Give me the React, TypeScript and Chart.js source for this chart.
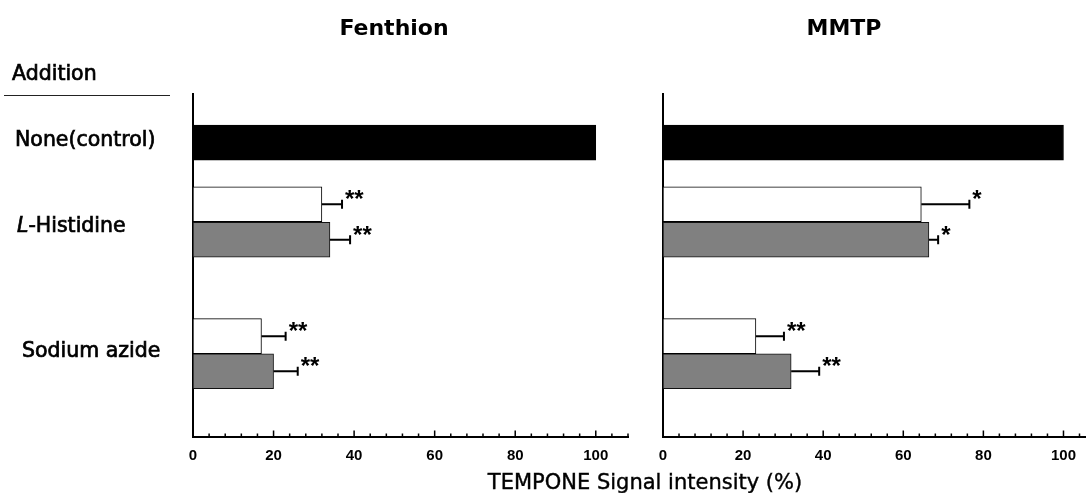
import React, { useEffect, useRef } from "react";
import { Chart, registerables } from "chart.js";

Chart.register(...registerables);

// ---------- text ----------
const panelTitles = ["Fenthion", "MMTP"];
const additionHeader = "Addition";
const rowLabels = ["None(control)", "L-Histidine", "Sodium azide"];
const xTickLabels = [0, 20, 40, 60, 80, 100];
const xAxisTitle = "TEMPONE Signal intensity (%)";

// ---------- data (TEMPONE signal intensity, %) ----------
// Fenthion panel
const fenthionControl = [100];
const fenthionWhite = [32, 17]; // L-Histidine, Sodium azide
const fenthionWhiteErr = [5, 6];
const fenthionWhiteSig = ["**", "**"];
const fenthionGrey = [34, 20];
const fenthionGreyErr = [5, 6];
const fenthionGreySig = ["**", "**"];

// MMTP panel
const mmtpControl = [100];
const mmtpWhite = [64.5, 23.2];
const mmtpWhiteErr = [12, 7];
const mmtpWhiteSig = ["*", "**"];
const mmtpGrey = [66.4, 32];
const mmtpGreyErr = [2.3, 7];
const mmtpGreySig = ["*", "**"];

// ---------- row slots along the (hidden) vertical axis, in bar-height units ----------
const controlSlot = [1.37];
const whiteSlots = [3.11, 6.83];
const greySlots = [4.11, 7.82];
const rowAxisMax = 9.66;

const FONT_SANS = '"DejaVu Sans", "Liberation Sans", sans-serif';
const FONT_TICK = '"Liberation Sans", Arial, sans-serif';

const errorBarPlugin = {
  id: "errorBars",
  afterDatasetsDraw(chart: any) {
    const ctx = chart.ctx;
    const xs = chart.scales.x;
    chart.data.datasets.forEach((ds: any, di: number) => {
      if (!ds.errors) return;
      const meta = chart.getDatasetMeta(di);
      meta.data.forEach((bar: any, i: number) => {
        const v = ds.data[i].x;
        const e = ds.errors[i];
        const x0 = bar.x;
        const y = bar.y;
        const x1 = xs.getPixelForValue(v + e);
        ctx.save();
        ctx.strokeStyle = "#000";
        ctx.lineWidth = 2;
        ctx.beginPath();
        ctx.moveTo(x0, y);
        ctx.lineTo(x1, y);
        ctx.moveTo(x1, y - 4.5);
        ctx.lineTo(x1, y + 4.5);
        ctx.stroke();
        if (ds.sig && ds.sig[i]) {
          ctx.fillStyle = "#000";
          ctx.font = `bold 24px ${FONT_TICK}`;
          ctx.textAlign = "left";
          ctx.textBaseline = "alphabetic";
          ctx.fillText(ds.sig[i], x1 + 3, y + 3);
        }
        ctx.restore();
      });
    });
  },
};

const inwardTicksPlugin = {
  id: "inwardTicks",
  afterDraw(chart: any) {
    const ctx = chart.ctx;
    const xs = chart.scales.x;
    ctx.save();
    ctx.strokeStyle = "#000";
    ctx.lineWidth = 1.5;
    ctx.beginPath();
    xs.ticks.forEach((t: any) => {
      const px = xs.getPixelForValue(t.value);
      const len = t.value % 20 === 0 ? 6 : 3;
      ctx.moveTo(px, xs.top);
      ctx.lineTo(px, xs.top - len);
    });
    ctx.stroke();
    ctx.restore();
  },
};

function toPoints(values: number[], slots: number[]) {
  return values.map((v, i) => ({ x: v, y: slots[i] }));
}

type PanelProps = {
  left: number;
  width: number;
  padLeft: number;
  padRight: number;
  xMax: number;
  control: number[];
  white: number[];
  whiteErr: number[];
  whiteSig: string[];
  grey: number[];
  greyErr: number[];
  greySig: string[];
};

function Panel(p: PanelProps) {
  const ref = useRef<HTMLCanvasElement | null>(null);
  useEffect(() => {
    if (!ref.current) return;
    const chart = new Chart(ref.current, {
      type: "bar",
      data: {
        datasets: [
          {
            label: "control",
            data: toPoints(p.control, controlSlot),
            backgroundColor: "#000",
            borderColor: "#000",
            borderWidth: 1,
            barThickness: 35,
            grouped: false,
          } as any,
          {
            label: "white",
            data: toPoints(p.white, whiteSlots),
            backgroundColor: "#ffffff",
            borderColor: "#000",
            borderWidth: 1,
            borderSkipped: false,
            barThickness: 35,
            grouped: false,
            errors: p.whiteErr,
            sig: p.whiteSig,
          } as any,
          {
            label: "grey",
            data: toPoints(p.grey, greySlots),
            backgroundColor: "#808080",
            borderColor: "#111",
            borderWidth: 1,
            borderSkipped: false,
            barThickness: 35,
            grouped: false,
            errors: p.greyErr,
            sig: p.greySig,
          } as any,
        ],
      },
      options: {
        indexAxis: "y",
        animation: false,
        responsive: true,
        maintainAspectRatio: false,
        layout: { padding: { left: p.padLeft, right: p.padRight, top: 94, bottom: 17.5 } },
        plugins: { legend: { display: false }, tooltip: { enabled: false } },
        scales: {
          x: {
            type: "linear",
            min: 0,
            max: p.xMax,
            ticks: {
              stepSize: 4,
              autoSkip: false,
              maxRotation: 0,
              includeBounds: false,
              padding: 10.5,
              color: "#000",
              font: { family: FONT_TICK, weight: "bold", size: 15 },
              callback: (v: any) => (xTickLabels.includes(Number(v)) ? String(v) : ""),
            },
            grid: { display: false, drawTicks: false },
            border: { display: true, color: "#000", width: 2 },
          },
          y: {
            type: "linear",
            reverse: true,
            offset: false,
            min: 0,
            max: rowAxisMax,
            ticks: { display: false },
            grid: { display: false, drawTicks: false, offset: false },
            border: { display: true, color: "#000", width: 2 },
          },
        },
      } as any,
      plugins: [errorBarPlugin, inwardTicksPlugin],
    });
    return () => chart.destroy();
  }, []);
  return (
    <div style={{ position: "absolute", left: p.left, top: 0, width: p.width, height: 493 }}>
      <canvas ref={ref} />
    </div>
  );
}

const textBase: React.CSSProperties = {
  position: "absolute",
  lineHeight: 1,
  whiteSpace: "nowrap",
  color: "#000",
  fontFamily: FONT_SANS,
};

const labelStyle: React.CSSProperties = {
  ...textBase,
  transform: "translateY(-50%)",
  fontSize: 20.5,
  WebkitTextStroke: "0.7px #000",
};

export default function App() {
  return (
    <div
      style={{
        position: "absolute",
        left: 0,
        top: 0,
        width: 1086,
        height: 493,
        background: "#fff",
        overflow: "hidden",
      }}
    >
      <Panel
        left={0}
        width={640}
        padLeft={193}
        padRight={12}
        xMax={108}
        control={fenthionControl}
        white={fenthionWhite}
        whiteErr={fenthionWhiteErr}
        whiteSig={fenthionWhiteSig}
        grey={fenthionGrey}
        greyErr={fenthionGreyErr}
        greySig={fenthionGreySig}
      />
      <Panel
        left={640}
        width={450}
        padLeft={23}
        padRight={0}
        xMax={105.75}
        control={mmtpControl}
        white={mmtpWhite}
        whiteErr={mmtpWhiteErr}
        whiteSig={mmtpWhiteSig}
        grey={mmtpGrey}
        greyErr={mmtpGreyErr}
        greySig={mmtpGreySig}
      />
      {/* panel titles */}
      <div style={{ ...textBase, left: 394, top: 27.5, transform: "translate(-50%,-50%)", fontSize: 22, fontWeight: "bold" }}>
        {panelTitles[0]}
      </div>
      <div style={{ ...textBase, left: 844, top: 27.5, transform: "translate(-50%,-50%)", fontSize: 22, fontWeight: "bold" }}>
        {panelTitles[1]}
      </div>
      {/* addition header */}
      <div style={{ ...labelStyle, left: 12, top: 72.5 }}>{additionHeader}</div>
      <div style={{ position: "absolute", left: 4, top: 94.5, width: 166, height: 1, background: "#222" }} />
      {/* row labels */}
      <div style={{ ...labelStyle, left: 15, top: 139 }}>{rowLabels[0]}</div>
      <div style={{ ...labelStyle, left: 17, top: 224.5 }}>
        <i>{rowLabels[1].slice(0, 1)}</i>
        {rowLabels[1].slice(1)}
      </div>
      <div style={{ ...labelStyle, left: 22, top: 350 }}>{rowLabels[2]}</div>
      {/* x-axis title */}
      <div style={{ ...textBase, left: 645, top: 481.5, transform: "translate(-50%,-50%)", fontSize: 21, WebkitTextStroke: "0.4px #000" }}>
        {xAxisTitle}
      </div>
    </div>
  );
}
